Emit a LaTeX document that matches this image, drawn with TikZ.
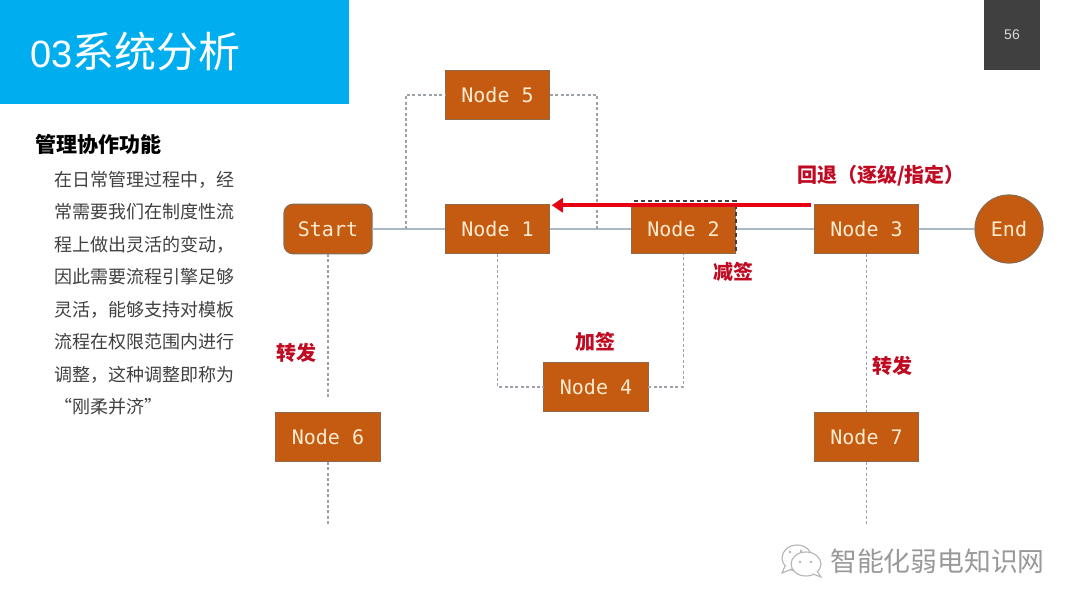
\documentclass[tikz,border=0pt]{standalone}
\usepackage{fontspec}
\setmainfont{Noto Sans CJK SC}
\newfontfamily\lblmono{DejaVu Sans Mono}
\newfontfamily\titlelat{Liberation Sans}
\usetikzlibrary{arrows.meta,calc}
\definecolor{titleblue}{HTML}{00AEEF}
\definecolor{boxfill}{HTML}{C55A11}
\definecolor{boxline}{HTML}{8F6A48}
\definecolor{boxtext}{HTML}{FFEBCF}
\definecolor{linkgray}{HTML}{A9B8C2}
\definecolor{dashgray}{HTML}{9CA2A8}
\definecolor{redlabel}{HTML}{C00A22}
\definecolor{bodygray}{HTML}{404040}
\definecolor{markgray}{HTML}{B4B4B4}
\tikzset{
  nodebox/.style={draw=boxline,fill=boxfill,line width=1.2pt,minimum width=104.5pt,minimum height=49.5pt,inner sep=0pt,outer sep=0pt,text=boxtext,font=\lblmono\fontsize{20pt}{22pt}\selectfont},
  startbox/.style={nodebox,rounded corners=9pt,minimum width=88pt},
  endbox/.style={nodebox,circle,minimum width=68pt,minimum height=68pt},
  solidlink/.style={draw=linkgray,line width=1.1pt},
  dashlink/.style={draw=dashgray,line width=1.2pt,dash pattern=on 3pt off 2.4pt},
  redtag/.style={text=redlabel,font=\bfseries\fontsize{20pt}{24pt}\selectfont,inner sep=0pt},
  backarrow/.style={draw={rgb,255:red,230;green,0;blue,18},line width=4.4pt,-{Triangle[length=11pt,width=14pt]}},
  markicon/.style={draw=markgray,line width=1.1pt,fill=white}
}
\begin{document}
\begin{tikzpicture}[x=1pt,y=-1pt]
\useasboundingbox (0,0) rectangle (1080,608);
\fill[titleblue] (0,0) rectangle (349,103.5);
\fill[bodygray] (984,0) rectangle (1040,70);
\node[text=white,inner sep=0pt,anchor=west,font=\fontsize{42pt}{46pt}\selectfont] (title) at (30,52) {{\titlelat\fontsize{38pt}{46pt}\selectfont 03}系统分析};
\node[text=white!85!black,inner sep=0pt,font=\titlelat\fontsize{14pt}{16pt}\selectfont] (page) at (1012,35) {56};
\node[anchor=west,inner sep=0pt,font=\bfseries\fontsize{21pt}{24pt}\selectfont] (head) at (35,144) {管理协作功能};
\node[anchor=north west,align=left,inner sep=0pt,text=bodygray,font=\fontsize{18pt}{32.45pt}\selectfont] (body) at (54,171) {在日常管理过程中，经\\常需要我们在制度性流\\程上做出灵活的变动，\\因此需要流程引擎足够\\灵活，能够支持对模板\\流程在权限范围内进行\\调整，这种调整即称为\\“刚柔并济”};
% nodes
\node[startbox] (s) at (328,229) {Start};
\node[nodebox] (n1) at (497.5,229) {Node 1};
\node[nodebox] (n2) at (683.5,229) {Node 2};
\node[nodebox] (n3) at (866.5,229) {Node 3};
\node[endbox] (e) at (1009,229) {End};
\node[nodebox] (n5) at (497.5,95) {Node 5};
\node[nodebox] (n4) at (596,387) {Node 4};
\node[nodebox] (n6) at (328,437) {Node 6};
\node[nodebox] (n7) at (866.5,437) {Node 7};
% connector ends
\coordinate (jl) at (406,229);
\coordinate (jr) at (597,229);
\coordinate (t6) at (328,524);
\coordinate (t7) at (866.5,524);
% solid
\draw[solidlink] (s.east) -- (n1.west);
\draw[solidlink] (n1.east) -- (n2.west);
\draw[solidlink] (n2.east) -- (n3.west);
\draw[solidlink] (n3.east) -- (e.west);
% dashed
\draw[dashlink] (jl) |- (n5.west);
\draw[dashlink] (n5.east) -| (jr);
\draw[dashlink] (n1.south) |- (n4.west);
\draw[dashlink] (n4.east) -| (n2.south);
\draw[dashlink,shorten >=15pt] (s.south) -- (n6.north);
\draw[dashlink] (n6.south) -- (t6);
\draw[dashlink] (n3.south) -- (n7.north);
\draw[dashlink] (n7.south) -- (t7);
% removed outline of node 2
\draw[draw=bodygray,line width=2pt,dash pattern=on 4pt off 3pt] ($(n2.north west)+(3,-3)$) -- ($(n2.north east)+(0,-3)$) -- ($(n2.south east)+(0,-2)$);
% return arrow
\draw[backarrow] ($(n3.north west)+(-3,1)$) -- ($(n1.north east)+(2,1)$);
% labels
\node[redtag] (back) at (881,176) {回退（逐级/指定）};
\node[redtag] (minus) at (733.5,272) {减签};
\node[redtag] (plus) at (595.5,342) {加签};
\node[redtag] (fwd1) at (296.5,353) {转发};
\node[redtag] (fwd2) at (892,366) {转发};
% watermark
\node[anchor=west,inner sep=0pt,text=markgray!85!black,font=\fontsize{26.8pt}{30pt}\selectfont] (mark) at (830,561) {智能化弱电知识网};
\draw[markicon] (797,558) ellipse (15pt and 13pt);
\draw[markicon] (785,566) -- (782,573) -- (792,569);
\draw[markicon] (806,564) ellipse (15pt and 12pt);
\draw[markicon,fill=white] (817,571) -- (821,577) -- (813,574);
\fill[markgray] (800,562) circle (1.3pt) (811,562) circle (1.3pt) (790,552) circle (1.3pt) (801,551) circle (1.3pt);
\end{tikzpicture}
\end{document}
